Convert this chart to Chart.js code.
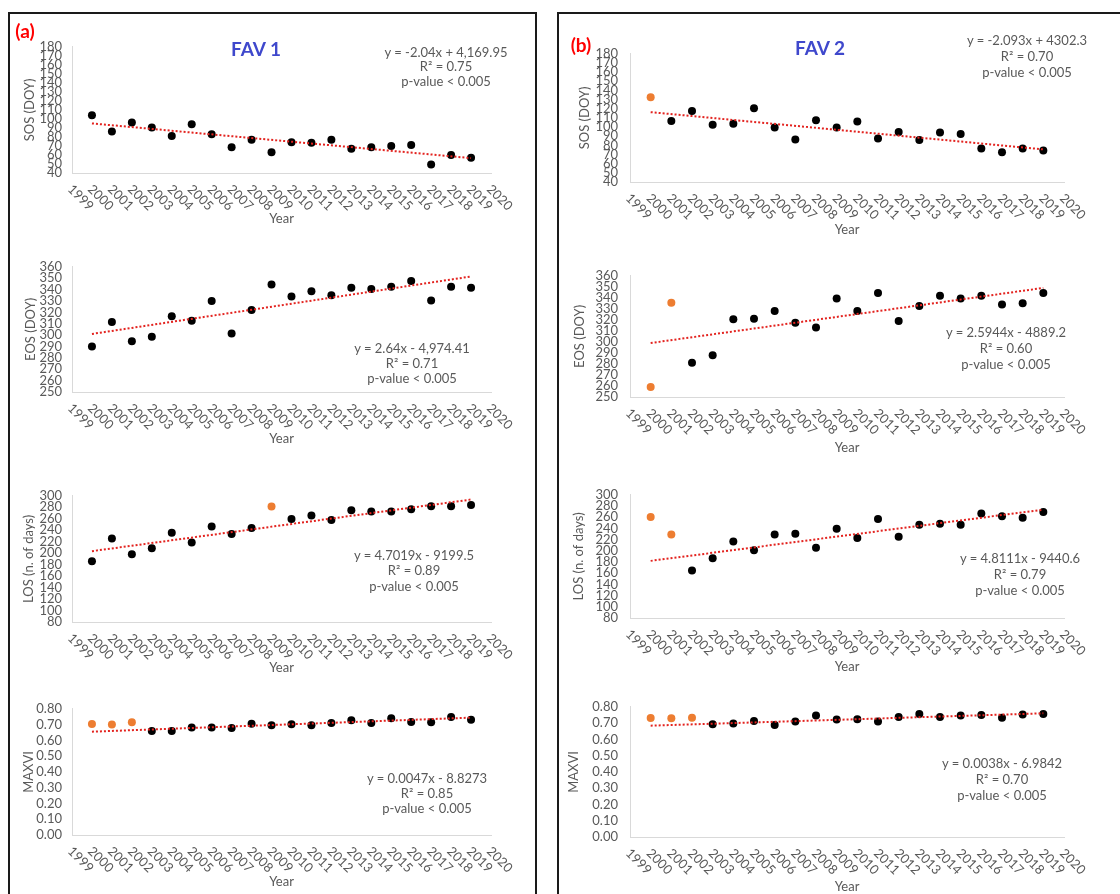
<!DOCTYPE html>
<html>
<head>
<meta charset="utf-8">
<script src="https://cdn.jsdelivr.net/npm/chart.js@4.4.1/dist/chart.umd.min.js"></script>
<style>
body { margin: 0; background: #fff; }
#fig { position: relative; width: 1120px; height: 894px; overflow: hidden; font-family: Lato, sans-serif; }
.panel { position: absolute; border: 2px solid #1a1a1a; box-sizing: border-box; }
canvas { position: absolute; }
.txt { position: absolute; white-space: nowrap; transform: translate(-50%, -50%); color: #595959; font-size: 13px; line-height: 1; }
.lab { position: absolute; white-space: nowrap; transform: translate(-50%, -50%); font-weight: bold; line-height: 1; }
</style>
</head>
<body>
<div id="fig">
  <div class="panel" style="left:8px;top:12px;width:529px;height:900px"></div>
  <div class="panel" style="left:557px;top:12px;width:580px;height:900px"></div>
</div>
<script>
// years with a value, and the labels of the x axis
var years = [2000, 2001, 2002, 2003, 2004, 2005, 2006, 2007, 2008, 2009,
             2010, 2011, 2012, 2013, 2014, 2015, 2016, 2017, 2018, 2019];
var yearTicks = ['1999', '2000', '2001', '2002', '2003', '2004', '2005', '2006', '2007', '2008', '2009',
                 '2010', '2011', '2012', '2013', '2014', '2015', '2016', '2017', '2018', '2019', '2020'];
var trendYears = [2000, 2019];

// FAV 1
var sos1 = [104, 86, 96, 90.5, 81, 94, 83, 68.5, 77, 63, 74, 73.5, 77, 67, 68.5, 70, 71, 49.5, 60, 57];
var sos1Trend = [95, 56.5];
var sos1Orange = [];
var eos1 = [290, 311.5, 294.5, 298.5, 316.5, 312.5, 330, 301.5, 322, 344.5, 334, 338.5, 335, 341.5, 340.5, 342.5, 347.5, 330.5, 342.5, 341.5];
var eos1Trend = [301, 351.5];
var eos1Orange = [];
var los1 = [186, 225.5, 198, 208.5, 235.5, 218.5, 246.5, 233.5, 244, 281.5, 259.5, 265.5, 258, 275, 272.5, 272.5, 276.5, 282, 282, 284];
var los1Trend = [203.5, 293.5];
var los1Orange = [2009];
var maxvi1 = [0.703, 0.700, 0.714, 0.659, 0.659, 0.681, 0.681, 0.679, 0.706, 0.695, 0.702, 0.695, 0.710, 0.728, 0.710, 0.740, 0.717, 0.715, 0.748, 0.731];
var maxvi1Trend = [0.655, 0.744];
var maxvi1Orange = [2000, 2001, 2002];

// FAV 2
var sos2 = [132.5, 106.5, 117.5, 102.5, 103.5, 120.5, 99.5, 86.5, 107.5, 99.5, 106, 87.5, 94.5, 86, 94, 92.5, 76.5, 72.5, 76.5, 74.5];
var sos2Trend = [116.3, 75.6];
var sos2Orange = [2000];
var eos2 = [259, 335.5, 281, 288, 320.5, 321, 328, 317.5, 313, 339.5, 328, 344.5, 319, 332.5, 342, 339.5, 342, 334, 335, 344.5];
var eos2Trend = [299, 349];
var eos2Orange = [2000, 2001];
var los2 = [260.5, 229, 165, 186.5, 216.5, 201, 229, 230.5, 205.5, 239.5, 223, 257, 225, 246.5, 248.5, 246.5, 266.5, 261.5, 259, 269.5];
var los2Trend = [182, 273.5];
var los2Orange = [2000, 2001];
var maxvi2 = [0.731, 0.730, 0.733, 0.693, 0.697, 0.712, 0.688, 0.709, 0.747, 0.722, 0.724, 0.709, 0.737, 0.756, 0.737, 0.747, 0.749, 0.733, 0.752, 0.756];
var maxvi2Trend = [0.684, 0.760];
var maxvi2Orange = [2000, 2001, 2002];

// trend equations
var sos1Eq = ['y = -2.04x + 4,169.95', 'R² = 0.75', 'p-value < 0.005'];
var eos1Eq = ['y = 2.64x - 4,974.41', 'R² = 0.71', 'p-value < 0.005'];
var los1Eq = ['y = 4.7019x - 9199.5', 'R² = 0.89', 'p-value < 0.005'];
var maxvi1Eq = ['y = 0.0047x - 8.8273', 'R² = 0.85', 'p-value < 0.005'];
var sos2Eq = ['y = -2.093x + 4302.3', 'R² = 0.70', 'p-value < 0.005'];
var eos2Eq = ['y = 2.5944x - 4889.2', 'R² = 0.60', 'p-value < 0.005'];
var los2Eq = ['y = 4.8111x - 9440.6', 'R² = 0.79', 'p-value < 0.005'];
var maxvi2Eq = ['y = 0.0038x - 6.9842', 'R² = 0.70', 'p-value < 0.005'];

Chart.defaults.font.family = 'Lato';
Chart.defaults.font.size = 13;
Chart.defaults.color = '#595959';

// year labels turned clockwise, like the spreadsheet does
var xLabels = {
    id: 'xLabels',
    afterDraw: function (chart) {
        var xs = chart.scales.x;
        var ctx = chart.ctx;
        ctx.save();
        ctx.font = '13px Lato';
        ctx.fillStyle = '#595959';
        ctx.textAlign = 'left';
        ctx.textBaseline = 'middle';
        yearTicks.forEach(function (t) {
            var px = xs.getPixelForValue(Number(t));
            ctx.save();
            ctx.translate(px - 2, xs.top + 14);
            ctx.rotate(Math.PI / 4);
            ctx.fillText(t, 0, 0);
            ctx.restore();
        });
        ctx.restore();
    }
};

var fig = document.getElementById('fig');

function addText(cls, text, x, y, style) {
    var d = document.createElement('div');
    d.className = cls;
    d.textContent = text;
    d.style.left = x + 'px';
    d.style.top = y + 'px';
    if (style) d.style.cssText += style;
    fig.appendChild(d);
}

function makeChart(c) {
    var padR = 40;
    var cl = c.titleX - 10;
    var ct = c.top - 10;
    var cw = c.right + padR - cl;
    var ch = c.yearY + 10 - ct;
    var yW = c.left - cl;
    var xH = c.yearY + 10 - c.bottom;

    var canvas = document.createElement('canvas');
    canvas.width = cw;
    canvas.height = ch;
    canvas.style.left = cl + 'px';
    canvas.style.top = ct + 'px';
    fig.appendChild(canvas);

    var points = years.map(function (yr, i) { return {x: yr, y: c.values[i]}; });
    var colors = years.map(function (yr) { return c.orange.indexOf(yr) >= 0 ? '#ed7d31' : '#000000'; });
    var trend = trendYears.map(function (yr, i) { return {x: yr, y: c.trend[i]}; });

    new Chart(canvas, {
        type: 'scatter',
        data: {
            datasets: [{
                data: trend,
                showLine: true,
                borderColor: '#e3231f',
                borderWidth: 2,
                borderDash: [2, 2],
                pointRadius: 0,
                fill: false
            }, {
                data: points,
                pointRadius: 4,
                pointBackgroundColor: colors,
                pointBorderWidth: 0
            }]
        },
        options: {
            responsive: false,
            animation: false,
            devicePixelRatio: 1,
            layout: {padding: {left: 0, right: padR, top: 10, bottom: 0}},
            plugins: {legend: {display: false}, tooltip: {enabled: false}},
            scales: {
                x: {
                    type: 'linear', min: 1999, max: 2020,
                    grid: {display: false, drawTicks: false},
                    border: {display: true, color: '#d9d9d9', width: 1},
                    ticks: {display: false, stepSize: 1},
                    title: {display: true, text: 'Year', color: '#595959', font: {size: 13}, padding: {top: 0, bottom: 2}},
                    afterFit: function (s) { s.height = xH; }
                },
                y: {
                    min: c.min, max: c.max,
                    grid: {display: false, drawTicks: false},
                    border: {display: true, color: '#d9d9d9', width: 1},
                    ticks: {
                        stepSize: c.step, autoSkip: false, padding: c.pad, color: '#595959',
                        callback: function (v) { return Number(v).toFixed(c.dec); }
                    },
                    title: {display: true, text: c.yTitle, color: '#595959', font: {size: 13}, padding: {top: 2, bottom: 0}},
                    afterFit: function (s) { s.width = yW; }
                }
            }
        },
        plugins: [xLabels]
    });

    c.eq.forEach(function (line, i) {
        addText('txt', line, c.eqX, c.eqY[i]);
    });
}

makeChart({values: sos1, trend: sos1Trend, orange: sos1Orange, eq: sos1Eq, yTitle: 'SOS (DOY)',
    min: 40, max: 180, step: 10, dec: 0, left: 72, right: 491, top: 39, bottom: 173,
    titleX: 30, yearY: 219, pad: 10, eqX: 446, eqY: [52, 66, 81]});
makeChart({values: eos1, trend: eos1Trend, orange: eos1Orange, eq: eos1Eq, yTitle: 'EOS (DOY)',
    min: 250, max: 360, step: 10, dec: 0, left: 72, right: 491, top: 259, bottom: 392,
    titleX: 31, yearY: 439, pad: 10, eqX: 412, eqY: [348, 363, 378]});
makeChart({values: los1, trend: los1Trend, orange: los1Orange, eq: los1Eq, yTitle: 'LOS (n. of days)',
    min: 80, max: 300, step: 20, dec: 0, left: 72, right: 491, top: 488, bottom: 622,
    titleX: 29, yearY: 668, pad: 10, eqX: 414, eqY: [555, 570, 586]});
makeChart({values: maxvi1, trend: maxvi1Trend, orange: maxvi1Orange, eq: maxvi1Eq, yTitle: 'MAXVI',
    min: 0, max: 0.8, step: 0.1, dec: 2, left: 72, right: 491, top: 701, bottom: 835,
    titleX: 29, yearY: 882, pad: 10, eqX: 427, eqY: [778, 793, 808]});

makeChart({values: sos2, trend: sos2Trend, orange: sos2Orange, eq: sos2Eq, yTitle: 'SOS (DOY)',
    min: 40, max: 180, step: 10, dec: 0, left: 630, right: 1064, top: 44, bottom: 182,
    titleX: 585, yearY: 230, pad: 12, eqX: 1027, eqY: [40, 56, 72]});
makeChart({values: eos2, trend: eos2Trend, orange: eos2Orange, eq: eos2Eq, yTitle: 'EOS (DOY)',
    min: 250, max: 360, step: 10, dec: 0, left: 630, right: 1064, top: 266, bottom: 397,
    titleX: 580, yearY: 448, pad: 12, eqX: 1006, eqY: [332, 348, 364]});
makeChart({values: los2, trend: los2Trend, orange: los2Orange, eq: los2Eq, yTitle: 'LOS (n. of days)',
    min: 80, max: 300, step: 20, dec: 0, left: 630, right: 1064, top: 485, bottom: 618,
    titleX: 579, yearY: 667, pad: 12, eqX: 1020, eqY: [558, 574, 590]});
makeChart({values: maxvi2, trend: maxvi2Trend, orange: maxvi2Orange, eq: maxvi2Eq, yTitle: 'MAXVI',
    min: 0, max: 0.8, step: 0.1, dec: 2, left: 630, right: 1064, top: 697, bottom: 837,
    titleX: 574, yearY: 887, pad: 12, eqX: 1002, eqY: [763, 779, 795]});

addText('lab', '(a)', 25, 30, 'color:#ff0000;font-size:19px;');
addText('lab', '(b)', 581, 44, 'color:#ff0000;font-size:19px;');
addText('lab', 'FAV 1', 256, 48, 'color:#3f48cc;font-size:19px;');
addText('lab', 'FAV 2', 820, 47, 'color:#3f48cc;font-size:19px;');
</script>
</body>
</html>
